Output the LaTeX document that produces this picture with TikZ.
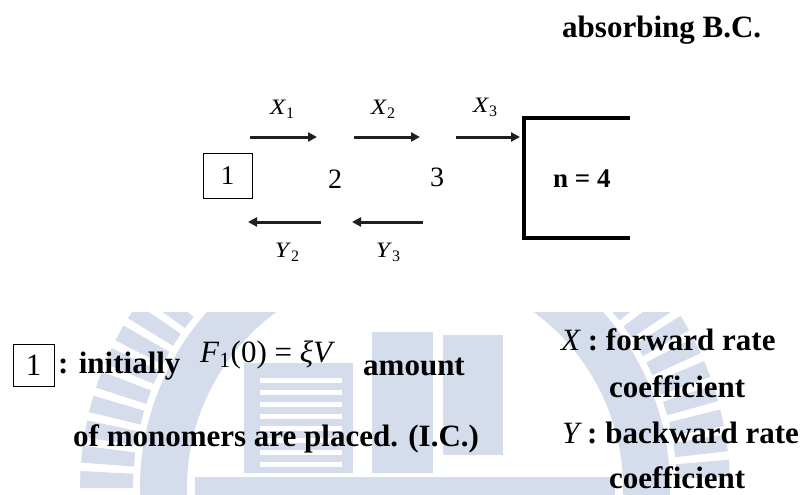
\documentclass[tikz,border=0pt]{standalone}
\usepackage{fontspec}
\setmainfont{Liberation Serif}
\usetikzlibrary{arrows.meta}
\definecolor{wm}{RGB}{213,220,236}
\newcommand{\rlab}[2]{\scalebox{1.15}[1]{\textit{#1}}\raisebox{-4pt}{\fontsize{16}{18}\selectfont #2}}
\begin{document}
\begin{tikzpicture}[x=1pt,y=-1pt,
  arr/.style={line width=3pt, color=black!88, -{Triangle[length=9pt,width=9pt]}},
  lbl/.style={inner sep=0, anchor=base, font=\fontsize{22}{26}\selectfont},
  num/.style={inner sep=0, font=\fontsize{28}{32}\selectfont},
  big/.style={inner sep=0, anchor=base west, font=\bfseries\fontsize{31}{36}\selectfont},
  boxed/.style={draw, line width=0.8pt, inner sep=0},
  wall/.style={line width=4.8pt, line join=miter, line cap=rect}]
\useasboundingbox (0,0) rectangle (809,495);
% ---------- watermark ----------
\begin{scope}
  \clip (0,312) rectangle (809,495);
  \begin{scope}[y=1pt, shift={(405,-488)}]
    \foreach \a in {96,100.5,...,177} {
      \pgfmathsetmacro\b{\a+3}
      \fill[wm] (\a:272pt) -- (\a:325pt) -- (\b:325pt) -- (\b:272pt) -- cycle;}
    \foreach \a in {2,6.5,...,83} {
      \pgfmathsetmacro\b{\a+3}
      \fill[wm] (\a:272pt) -- (\a:325pt) -- (\b:325pt) -- (\b:272pt) -- cycle;}
    \fill[wm] (100:218pt) arc[start angle=100, end angle=190, radius=218pt]
      -- (190:265pt) arc[start angle=190, end angle=100, radius=265pt] -- cycle;
    \fill[wm] (80:218pt) arc[start angle=80, end angle=-10, radius=218pt]
      -- (-10:265pt) arc[start angle=-10, end angle=80, radius=265pt] -- cycle;
  \end{scope}
  \fill[wm] (244,363) rectangle (353,473);
  \foreach \yy in {378,390,...,466} {\fill[white] (260,\yy) rectangle (342,\yy+5);}
  \fill[wm] (372,332) rectangle (433,473);
  \fill[wm] (443,335) rectangle (503,455);
  \fill[wm] (195,477) rectangle (615,495);
\end{scope}
% ---------- title ----------
\node[big] (abs) at (562,38) {absorbing B.C.};
% ---------- chain diagram ----------
\node[boxed, minimum width=49pt, minimum height=45pt, font=\fontsize{27}{31}\selectfont] (b1) at (227.5,176) {1};
\node[num] (n2) at (335,179) {2};
\node[num] (n3) at (437,177) {3};
\coordinate (a1s) at (250,137); \coordinate (a1e) at (317,137);
\coordinate (a2s) at (354,137); \coordinate (a2e) at (420,137);
\coordinate (a3s) at (456,137); \coordinate (a3e) at (520,137);
\coordinate (b2s) at (321,222); \coordinate (b2e) at (248,222);
\coordinate (b3s) at (423,222); \coordinate (b3e) at (352,222);
\draw[arr] (a1s) -- (a1e);
\draw[arr] (a2s) -- (a2e);
\draw[arr] (a3s) -- (a3e);
\draw[arr] (b2s) -- (b2e);
\draw[arr] (b3s) -- (b3e);
\node[lbl] (x1) at (282,114) {\rlab{X}{1}};
\node[lbl] (x2) at (383,114) {\rlab{X}{2}};
\node[lbl] (x3) at (485,113) {\rlab{X}{3}};
\node[lbl] (y2) at (287,257) {\rlab{Y}{2}};
\node[lbl] (y3) at (388,257) {\rlab{Y}{3}};
\coordinate (w1) at (628,118); \coordinate (w2) at (524,118);
\coordinate (w3) at (524,238); \coordinate (w4) at (628,238);
\draw[wall] (w1) -- (w2) -- (w3) -- (w4);
\node[inner sep=0, anchor=base west, font=\bfseries\fontsize{27}{32}\selectfont] (n4) at (553,187) {n = 4};
% ---------- legend text ----------
\node[boxed, minimum width=41pt, minimum height=42pt, font=\fontsize{31}{36}\selectfont] (b1b) at (33.5,365) {1};
\node[big] (init) at (58,373) {: initially};
\node[inner sep=0, anchor=base west, font=\fontsize{31}{36}\selectfont] (eq) at (200,362) {\textit{F}\textsubscript{1}(0) = \textit{ξV}};
\node[big] (amt) at (363,375) {amount};
\node[big] (mono) at (73,446) {of monomers are placed. (I.C.)};
\node[big] (xd) at (561,350) {{\mdseries\itshape X} : forward rate};
\node[big] (c1) at (609,397) {coefficient};
\node[big] (yd) at (562,443) {{\mdseries\itshape Y} : backward rate};
\node[big] (c2) at (609,488) {coefficient};
\end{tikzpicture}
\end{document}
